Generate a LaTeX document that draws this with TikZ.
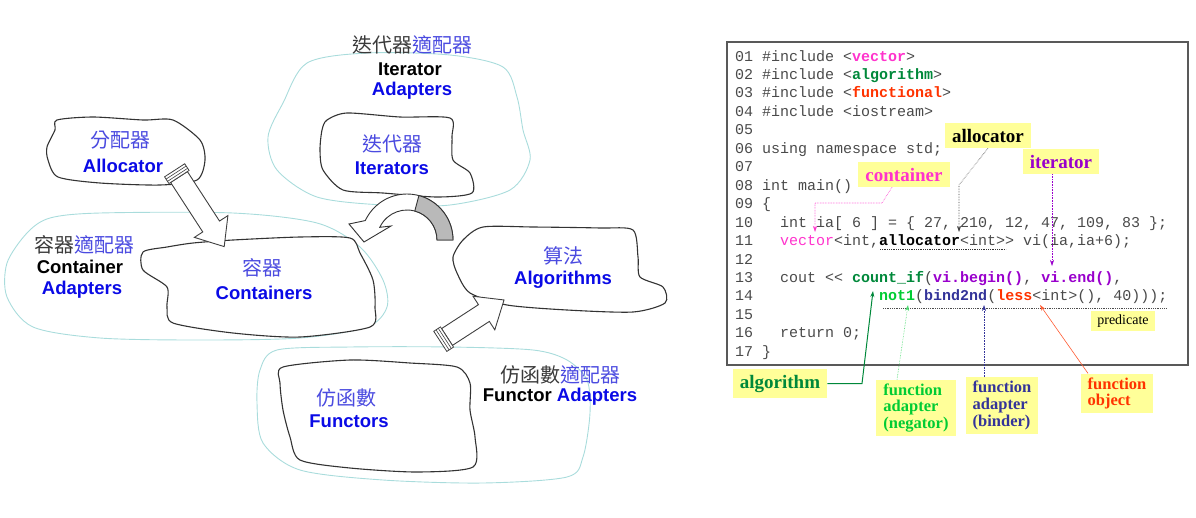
\documentclass[tikz,border=0pt]{standalone}
\usepackage{fontspec}
\setmainfont{Liberation Serif}
\setsansfont{Liberation Sans}
\setmonofont{Liberation Mono}
\newfontfamily\cjkfont{Noto Sans CJK TC}
\usetikzlibrary{arrows.meta}

\definecolor{blobcyan}{HTML}{A9DCDC}
\definecolor{inkblue}{HTML}{0A0AE6}
\definecolor{zhblue}{HTML}{4B4BE0}
\definecolor{zhgray}{HTML}{3A3A3A}
\definecolor{codegray}{HTML}{4A4A4A}
\definecolor{kwpink}{HTML}{FF33CC}
\definecolor{kwgreen}{HTML}{00883A}
\definecolor{kwlime}{HTML}{00CC33}
\definecolor{kwred}{HTML}{FF3300}
\definecolor{kwpurple}{HTML}{9900CC}
\definecolor{kwnavy}{HTML}{333399}
\definecolor{notefill}{HTML}{FFFF99}

\newcommand{\codekw}[2]{\textcolor{#1}{\bfseries #2}}

% hollow block arrow with a ringed tail: x, y, angle, length
\newcommand{\hollowarrow}[4]{%
  \begin{scope}[shift={(#1,#2)}, rotate=#3]
    \draw[fill=white, draw=black!75, line width=0.9pt]
      (0,-10) -- (#4-24,-10) -- (#4-24,-20) -- (#4,0)
      -- (#4-24,20) -- (#4-24,10) -- (0,10) -- cycle;
    \draw[fill=white, draw=black!75, line width=0.8pt] (-8,-12) rectangle (0,12);
    \foreach \s in {-5.3,-2.6}
      \draw[black!75, line width=0.6pt] (\s,-12) -- (\s,12);
  \end{scope}}

\tikzset{
  outerblob/.style={draw=blobcyan, line width=0.9pt},
  innerblob/.style={draw=black!80, line width=1.1pt, fill=white},
  zhtext/.style={inner sep=0pt, font=\cjkfont\fontsize{20}{22}\selectfont},
  entext/.style={inner sep=0pt, font=\sffamily\bfseries\fontsize{18.5}{21}\selectfont},
  codeline/.style={anchor=base west, inner sep=0pt,
    font=\ttfamily\fontsize{15}{18}\selectfont, text=codegray},
  note/.style={fill=notefill, inner xsep=7pt, minimum height=25pt,
    font=\rmfamily\bfseries\fontsize{19}{20}\selectfont},
  notesmall/.style={fill=notefill, inner xsep=7pt, inner ysep=4pt, align=left,
    font=\rmfamily\bfseries\fontsize{16.5}{16.7}\selectfont},
  pointer/.style={-{Stealth[length=6pt,width=4pt]}, line width=0.6pt},
}

\begin{document}
\begin{tikzpicture}[x=1pt,y=1pt]
\useasboundingbox (0,0) rectangle (1196,-517);

%---------------- ADAPTER CLOUDS ----------------
\draw[outerblob] plot[smooth cycle] coordinates {(307,-63) (367,-53) (450,-55) (503,-67)
  (517,-97) (523,-130) (530,-160) (510,-190) (450,-205) (383,-205) (317,-197)
  (277,-170) (268,-137) (283,-103)};
\draw[outerblob] plot[smooth cycle] coordinates {(50,-218) (100,-213) (233,-213) (317,-223)
  (360,-247) (383,-280) (387,-307) (367,-327) (300,-338) (200,-340) (100,-338)
  (33,-327) (7,-297) (7,-263) (27,-233)};
\draw[outerblob] plot[smooth cycle] coordinates {(277,-350) (350,-347) (450,-347) (533,-350)
  (567,-360) (587,-380) (590,-413) (583,-457) (567,-477) (483,-483) (383,-480)
  (300,-470) (263,-443) (257,-403) (260,-370)};

%---------------- COMPONENT CLOUDS ----------------
\draw[innerblob] plot[smooth cycle, tension=0.45] coordinates {(57,-120) (93,-117) (143,-120)
  (173,-120) (200,-140) (205,-160) (197,-180) (160,-185) (100,-183) (58,-177)
  (48,-160) (47,-147) (55,-130)};
\draw[innerblob] plot[smooth cycle, tension=0.45] coordinates {(327,-120) (347,-113) (400,-117)
  (450,-118) (452,-137) (453,-160) (470,-173) (472,-193) (437,-197) (383,-193)
  (343,-190) (323,-170) (320,-150) (322,-130)};
\draw[innerblob] plot[smooth cycle, tension=0.45] coordinates {(143,-252) (167,-247) (193,-243)
  (233,-240) (300,-237) (350,-238) (360,-253) (373,-280) (375,-307) (370,-327)
  (300,-337) (233,-333) (173,-323) (167,-307) (167,-287) (143,-270)};
\draw[innerblob] plot[smooth cycle, tension=0.45] coordinates {(483,-227) (533,-227) (600,-228)
  (633,-230) (638,-257) (640,-277) (663,-287) (665,-303) (633,-312) (567,-310)
  (507,-305) (470,-293) (457,-273) (453,-257) (463,-240)};
\draw[innerblob] plot[smooth cycle, tension=0.45] coordinates {(283,-367) (350,-360) (410,-363)
  (457,-367) (470,-383) (470,-410) (475,-437) (473,-467) (417,-472) (350,-468)
  (300,-460) (290,-437) (283,-410) (280,-383)};

%---------------- LABELS ----------------
\node[zhtext] (itadzh) at (412,-45) {\textcolor{zhgray}{迭代器}\textcolor{zhblue}{適配器}};
\node[entext, text=black] (itadone) at (410,-69) {Iterator};
\node[entext, text=inkblue] (itadtwo) at (412,-91) {Adapters};
\node[zhtext, text=zhblue] (itzh) at (392,-144) {迭代器};
\node[entext, text=inkblue] (iten) at (392,-168) {Iterators};

\node[zhtext, text=zhblue] (alloczh) at (120,-140) {分配器};
\node[entext, text=inkblue] (allocen) at (123,-166) {Allocator};

\node[zhtext] (ctadzh) at (84,-245) {\textcolor{zhgray}{容器}\textcolor{zhblue}{適配器}};
\node[entext, text=black] (ctadone) at (80,-267) {Container};
\node[entext, text=inkblue] (ctadtwo) at (82,-290) {Adapters};
\node[zhtext, text=zhblue] (ctzh) at (262,-268) {容器};
\node[entext, text=inkblue] (cten) at (264,-293) {Containers};

\node[zhtext, text=zhblue] (algzh) at (563,-256) {算法};
\node[entext, text=inkblue] (algen) at (563,-280) {Algorithms};

\node[zhtext] (fnadzh) at (560,-375) {\textcolor{zhgray}{仿函數}\textcolor{zhblue}{適配器}};
\node[entext] (fnaden) at (560,-397) {\textcolor{black}{Functor} \textcolor{inkblue}{Adapters}};
\node[zhtext, text=zhblue] (fnzh) at (346,-398) {仿函數};
\node[entext, text=inkblue] (fnen) at (349,-421) {Functors};

%---------------- ARROWS ----------------
\hollowarrow{179}{-177}{-57}{83}
\hollowarrow{447}{-337}{33}{68}

% curved arrow, iterators -> containers
\begin{scope}[shift={(407,-240)}]
  \draw[fill=white, draw=black!80, line width=0.9pt]
    (0:46) arc[start angle=0, end angle=155, radius=46]
    -- (349-407,-224+240) -- (364-407,-242+240) -- (391-407,-226+240)
    -- (155:30) arc[start angle=155, end angle=0, radius=30] -- cycle;
  \draw[fill=gray!55, draw=black!80, line width=0.9pt]
    (0:46) arc[start angle=0, end angle=75, radius=46]
    -- (75:30) arc[start angle=75, end angle=0, radius=30] -- cycle;
\end{scope}

%---------------- CODE ----------------
\draw[draw=black!65, line width=1.6pt] (727,-42) rectangle (1188,-365);

\node[codeline] (l01) at (735,-61.0) {01 \#include <\codekw{kwpink}{vector}>};
\node[codeline] (l02) at (735,-79.5) {02 \#include <\codekw{kwgreen}{algorithm}>};
\node[codeline] (l03) at (735,-97.9) {03 \#include <\codekw{kwred}{functional}>};
\node[codeline] (l04) at (735,-116.4) {04 \#include <iostream>};
\node[codeline] (l05) at (735,-134.8) {05};
\node[codeline] (l06) at (735,-153.3) {06 using namespace std;};
\node[codeline] (l07) at (735,-171.7) {07};
\node[codeline] (l08) at (735,-190.2) {08 int main()};
\node[codeline] (l09) at (735,-208.6) {09 \{};
\node[codeline] (l10) at (735,-227.1) {10~~~int ia[ 6 ] = \{ 27, 210, 12, 47, 109, 83 \};};
\node[codeline] (l11) at (735,-245.5) {11~~~\textcolor{kwpink}{vector}<int,\codekw{black}{allocator}<int>> vi(ia,ia+6);};
\node[codeline] (l12) at (735,-264.0) {12};
\node[codeline] (l13) at (735,-282.4) {13~~~cout << \codekw{kwgreen}{count\_if}(\codekw{kwpurple}{vi.begin()}, \codekw{kwpurple}{vi.end()},};
\node[codeline] (l14) at (735,-300.9) {14~~~~~~~~~~~~~~\codekw{kwlime}{not1}(\codekw{kwnavy}{bind2nd}(\codekw{kwred}{less}<int>(), 40)));};
\node[codeline] (l15) at (735,-319.3) {15};
\node[codeline] (l16) at (735,-337.8) {16~~~return 0;};
\node[codeline] (l17) at (735,-356.2) {17 \}};

\draw[black!80, densely dotted, line width=0.8pt] (880,-249.5) -- (1006,-249.5);
\draw[black!70, densely dotted, line width=0.8pt] (883,-308) -- (1166,-308);

%---------------- CALLOUTS ----------------
\node[note, text=black] (allocnote) at (988,-135.5) {allocator};
\node[note, text=kwpurple] (iternote) at (1061,-161.5) {iterator};
\node[note, text=kwpink] (contnote) at (904,-174.5) {container};
\node[note, text=kwgreen, minimum height=29pt] (algonote) at (780,-383.5) {algorithm};
\node[notesmall, text=kwlime] (negnote) at (916,-408) {function\\adapter\\(negator)};
\node[notesmall, text=kwnavy] (bindnote) at (1002,-405.5) {function\\adapter\\(binder)};
\node[notesmall, text=kwred] (objnote) at (1117,-393.5) {function\\object};
\node[fill=notefill, inner xsep=6pt, minimum height=18pt,
  font=\rmfamily\fontsize{14}{16}\selectfont] (prednote) at (1123,-321) {predicate};

\coordinate (vectorkw) at (815,-232);
\coordinate (allockw) at (959,-232);
\coordinate (endkw) at (1052,-266);
\coordinate (countkw) at (873,-291);
\coordinate (notkw) at (908,-305);
\coordinate (bindkw) at (984,-305);
\coordinate (lesskw) at (1040,-305);

\draw[pointer, kwpink, densely dotted] ([xshift=-12]contnote.south) -- (882,-203) -- (815,-203) -- (vectorkw);
\draw[pointer, black!75, densely dotted] (allocnote.south) -- (959,-185) -- (allockw);
\draw[pointer, kwpurple, densely dotted] ([xshift=-9]iternote.south) -- (endkw);
\draw[pointer, kwgreen, line width=1pt] (algonote.east) -- (862,-383.5) -- (countkw);
\draw[pointer, kwlime!70, densely dotted] ([xshift=-19]negnote.north) -- (notkw);
\draw[pointer, kwnavy, densely dotted] ([xshift=-18]bindnote.north) -- (bindkw);
\draw[pointer, kwred!80] ([xshift=-29]objnote.north) -- (lesskw);

\end{tikzpicture}
\end{document}
